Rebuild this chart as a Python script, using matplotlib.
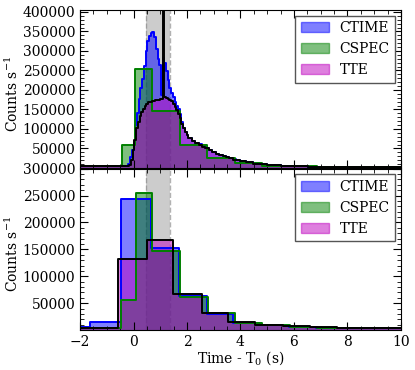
import matplotlib
matplotlib.use("Agg")
import matplotlib.pyplot as plt
from matplotlib.patches import Patch
from matplotlib.ticker import MultipleLocator, AutoMinorLocator

# ---- top panel: fine binned light curves ----
ctime_top_t = [-2.0, -0.192, -0.128, -0.064, 0.0, 0.064, 0.128, 0.192, 0.256, 0.320,
               0.384, 0.448, 0.512, 0.576, 0.640, 0.704, 0.768, 0.832, 0.896, 0.960,
               1.024, 1.088, 1.152, 1.216, 1.280, 1.344, 1.408, 1.472, 1.536, 1.600,
               1.664, 1.728, 1.792, 1.856, 1.920, 1.984, 2.048, 2.176, 2.304, 2.432,
               2.560, 2.688, 2.816, 2.944, 3.072, 3.200, 3.328, 3.456, 3.584, 3.712,
               3.840, 3.968, 4.224, 4.480, 4.736, 4.992, 5.248, 5.504, 5.760, 6.016,
               6.528, 7.040, 7.552, 8.064, 8.576, 9.088, 9.600, 10.0]
ctime_top_rate = [4000, 10000, 28000, 45000, 65000, 110000, 142000, 178000, 205000, 228000,
                  262000, 300000, 325000, 338000, 346000, 348000, 335000, 305000, 280000, 264000,
                  186000, 281000, 270000, 248000, 225000, 205000, 192000, 182000, 170000, 160000,
                  150000, 138000, 118000, 103000, 92000, 84000, 77000, 69000, 65000, 61000,
                  56000, 51000, 46000, 41000, 37000, 34000, 30000, 28000, 25000, 22000,
                  20000, 18000, 15000, 11500, 9500, 8000, 6800, 5800, 5000, 4200,
                  3500, 3000, 2800, 2700, 2700, 2700, 2700]

tte_top_t = [-2.0, -0.160, -0.096, -0.032, 0.032, 0.096, 0.160, 0.224, 0.288, 0.352,
             0.416, 0.480, 0.544, 0.608, 0.672, 0.736, 0.800, 0.864, 0.928, 0.992,
             1.056, 1.104, 1.152, 1.216, 1.280, 1.344, 1.408, 1.472, 1.536, 1.600,
             1.664, 1.728, 1.792, 1.856, 1.920, 1.984, 2.048, 2.176, 2.304, 2.432,
             2.560, 2.688, 2.816, 2.944, 3.072, 3.200, 3.328, 3.456, 3.584, 3.712,
             3.840, 3.968, 4.224, 4.480, 4.736, 4.992, 5.248, 5.504, 5.760, 6.016,
             6.528, 7.040, 7.552, 8.064, 8.576, 9.088, 9.600, 10.0]
tte_top_rate = [4000, 8000, 20000, 45000, 72000, 102000, 119000, 132000, 143000, 152000,
                160000, 165000, 168000, 170000, 171000, 172000, 173000, 174000, 175000, 176000,
                178000, 420000, 182000, 180000, 178000, 175000, 171000, 165000, 157000, 148000,
                138000, 127000, 114000, 102000, 92000, 84000, 76000, 68000, 64000, 60000,
                55000, 50000, 45000, 40000, 36000, 33000, 29500, 27500, 24500, 21500,
                19500, 17500, 14500, 11000, 9000, 7800, 6600, 5600, 4800, 4000,
                3400, 2900, 2700, 2600, 2600, 2600, 2600]

cspec_top_t = [-2.0, -0.44, 0.06, 0.70, 1.74, 2.76, 3.79, 4.80, 5.83, 6.86, 7.88, 8.90, 10.0]
cspec_top_rate = [4000, 60000, 255000, 145000, 58500, 25600, 12000, 6000, 4000, 3000, 2800, 2700]

# ---- bottom panel: coarse binned light curves ----
ctime_bot_t = [-2.0, -1.63, -0.48, 0.66, 1.70, 2.74, 3.73, 4.77, 5.80, 6.83, 7.86, 8.90, 10.0]
ctime_bot_rate = [5000, 14400, 244000, 153000, 63000, 30000, 13000, 9000, 6000, 4500, 3500, 3000]

cspec_bot_t = [-2.0, -0.47, 0.08, 0.70, 1.74, 2.78, 3.79, 4.82, 5.85, 6.88, 7.90, 8.93, 10.0]
cspec_bot_rate = [4000, 56000, 254000, 147000, 62000, 31000, 14000, 9500, 6500, 4500, 3500, 3000]

tte_bot_t = [-2.0, -0.57, 0.49, 1.49, 2.55, 3.54, 4.54, 5.60, 6.60, 7.60, 8.60, 10.0]
tte_bot_rate = [4500, 132000, 167000, 67000, 31500, 14500, 10000, 7000, 5000, 4000, 3500]

interval = (0.46, 1.36)

plt.rcParams["font.family"] = "DejaVu Serif"
plt.rcParams["mathtext.fontset"] = "dejavuserif"
plt.rcParams["font.size"] = 10


def draw_lc(ax, t, rate, color, edge):
    y = list(rate) + [rate[-1]]
    ax.fill_between(t, 0, y, step="post", color=color, alpha=0.5, lw=0)
    ax.step(t, y, where="post", color=edge, lw=1.4)


fig = plt.figure(figsize=(4.15, 3.7), dpi=100)
ax_top = fig.add_axes([0.193, 0.546, 0.773, 0.427])
ax_bot = fig.add_axes([0.193, 0.108, 0.773, 0.436], sharex=ax_top)

for ax in (ax_top, ax_bot):
    ax.axvspan(*interval, color="gray", alpha=0.4, lw=0, zorder=0)
    for x in interval:
        ax.axvline(x, color="gray", ls="--", lw=1.0, alpha=0.6, zorder=0)

draw_lc(ax_top, ctime_top_t, ctime_top_rate, "b", "b")
draw_lc(ax_top, cspec_top_t, cspec_top_rate, "g", "g")
draw_lc(ax_top, tte_top_t, tte_top_rate, "m", "k")

draw_lc(ax_bot, ctime_bot_t, ctime_bot_rate, "b", "b")
draw_lc(ax_bot, cspec_bot_t, cspec_bot_rate, "g", "g")
draw_lc(ax_bot, tte_bot_t, tte_bot_rate, "m", "k")

handles = [Patch(facecolor="b", edgecolor="b", alpha=0.5, label="CTIME"),
           Patch(facecolor="g", edgecolor="g", alpha=0.5, label="CSPEC"),
           Patch(facecolor="m", edgecolor="m", alpha=0.5, label="TTE")]

ax_top.set_ylim(0, 405000)
ax_top.set_yticks([50000, 100000, 150000, 200000, 250000, 300000, 350000, 400000])
ax_bot.set_ylim(0, 300000)
ax_bot.set_yticks([50000, 100000, 150000, 200000, 250000, 300000])
ax_bot.set_xlim(-2, 10)
ax_bot.xaxis.set_major_locator(MultipleLocator(2))
ax_bot.xaxis.set_minor_locator(MultipleLocator(0.5))

for ax in (ax_top, ax_bot):
    ax.yaxis.set_minor_locator(AutoMinorLocator(5))
    ax.tick_params(which="both", direction="in", top=True, right=True)
    ax.tick_params(which="major", length=6)
    ax.tick_params(which="minor", length=3)
    ax.set_ylabel("Counts s$^{-1}$")
    ax.yaxis.set_label_coords(-0.184, 0.47)
    ax.legend(handles=handles, loc="upper right", fancybox=False,
              framealpha=1, edgecolor="#555555", borderaxespad=0.4)

ax_top.tick_params(labelbottom=False)
ax_bot.set_xlabel("Time - T$_0$ (s)", labelpad=0)

fig.savefig("out.png", dpi=100)
